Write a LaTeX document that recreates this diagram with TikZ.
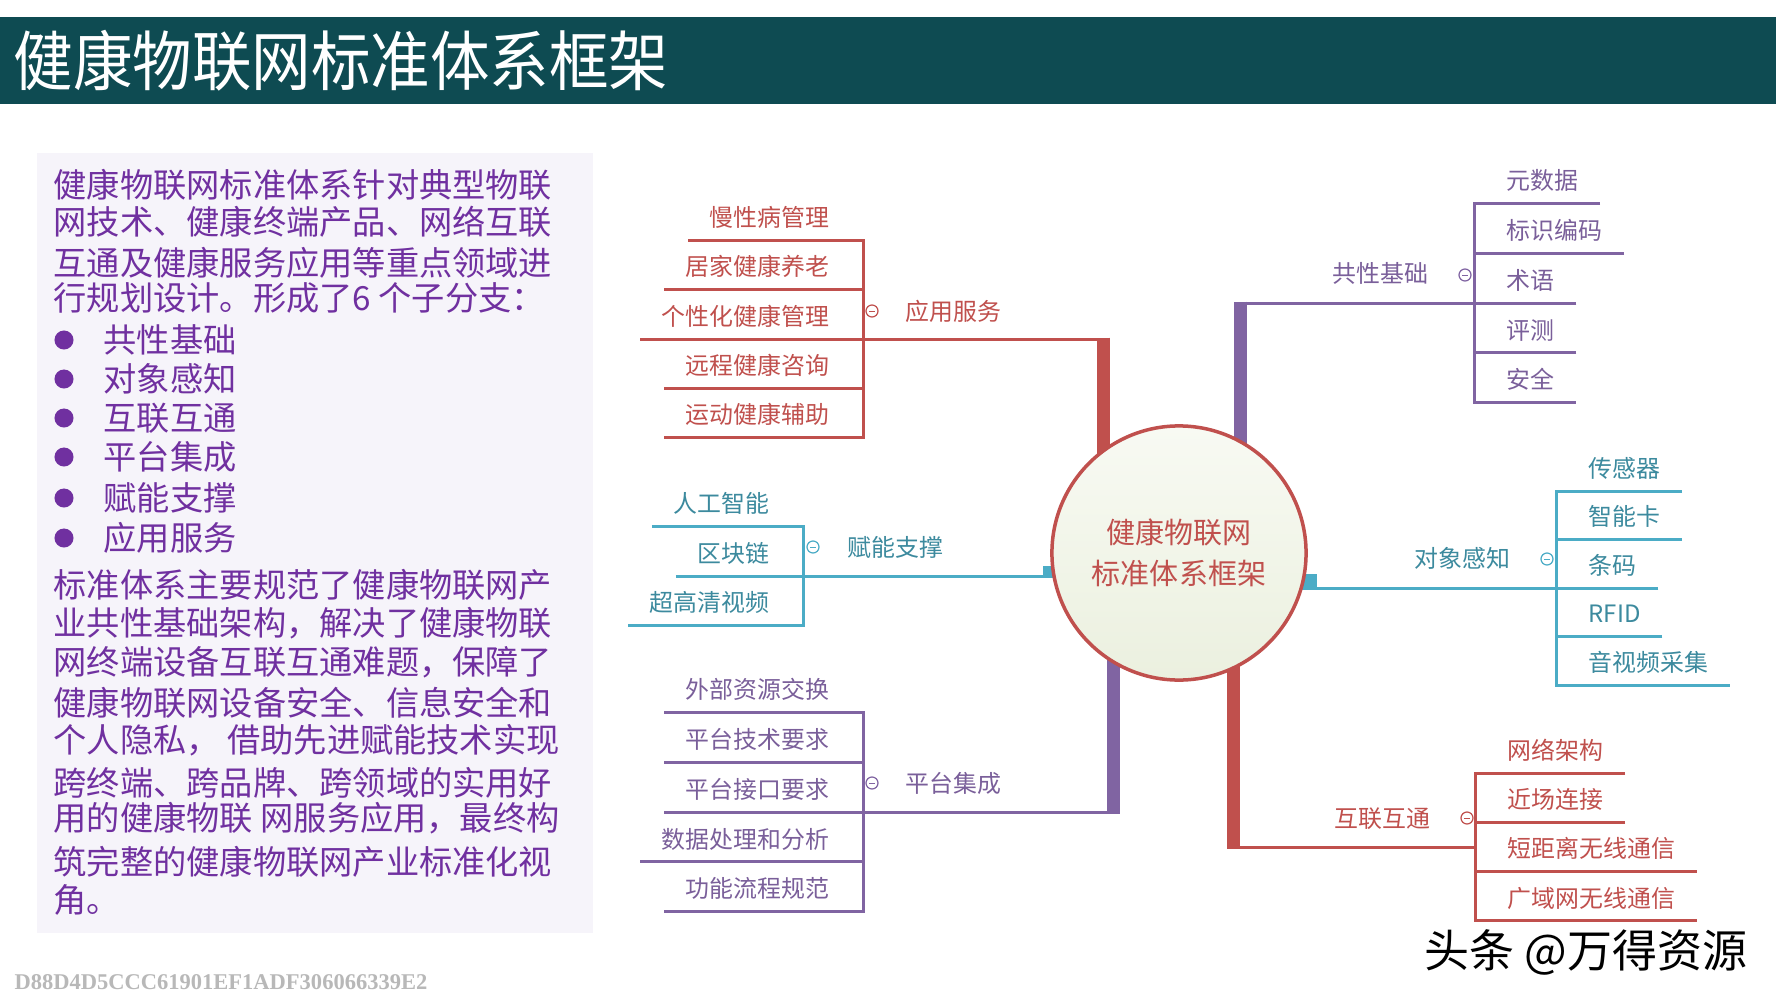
\documentclass[tikz,border=0pt]{standalone}
\usepackage{fontspec}
\usepackage{tikz}
\usetikzlibrary{positioning,calc}
\newfontfamily\cjk{Noto Sans CJK SC}
\newfontfamily\hashfont{Liberation Serif}
\definecolor{titlebg}{RGB}{14,75,82}
\definecolor{boxbg}{RGB}{246,244,250}
\definecolor{ink}{RGB}{112,48,160}
\definecolor{mred}{RGB}{192,80,77}
\definecolor{mpurple}{RGB}{128,100,162}
\definecolor{maqua}{RGB}{75,172,198}
\definecolor{hubtop}{RGB}{248,250,243}
\definecolor{hubbot}{RGB}{235,240,223}
\newcommand{\pxfont}[1]{\cjk\fontsize{#1}{#1}\selectfont}

\begin{document}
\begin{tikzpicture}[
  x=0.01cm, y=-0.01cm,
  titletext/.style={anchor=west,inner sep=0,text=white,font=\pxfont{18.5pt},text height=14pt,text depth=0pt},
  bodytext/.style={anchor=west,inner sep=0,text=ink,font=\pxfont{9.45pt},text height=7.2pt,text depth=0pt},
  leafL/.style={anchor=south east,inner xsep=0.21cm,inner ysep=0.13cm,text=#1,font=\pxfont{6.8pt},text height=5.2pt,text depth=0pt},
  leafR/.style={leafL=#1,anchor=south west},
  branchL/.style={anchor=west,inner sep=0,text=#1,font=\pxfont{6.8pt},text height=5.2pt,text depth=0pt},
  branchR/.style={branchL=#1,anchor=east},
  link/.style={draw=#1,line width=0.03cm},
  trunk/.style={draw=#1,line width=0.13cm},
  fold/.style={circle,draw=#1,fill=white,line width=0.35pt,minimum size=0.12cm,inner sep=0,text=#1},
  hub/.style={circle,draw=mred,line width=0.035cm,top color=hubtop,bottom color=hubbot,minimum size=2.54cm,inner sep=0,align=center,text=mred,font={\cjk\fontsize{8.25pt}{11.7pt}\selectfont}},
]
  \fill[white] (0,0) rectangle (1778,1000);
  \useasboundingbox (0,0) rectangle (1778,1000);
  % title bar
  \fill[titlebg] (0,17) rectangle (1776,104);
  \node[titletext] (title) at (13,61) {\scalebox{0.915}[1]{健康物联网标准体系框架}};
  % left text panel
  \fill[boxbg] (37,153) rectangle (593,933);
  \foreach \y/\t [count=\i] in {185/健康物联网标准体系针对典型物联,222/网技术、健康终端产品、网络互联,263/互通及健康服务应用等重点领域进,298/行规划设计。形成了6 个子分支：}
    \node[bodytext] (intro\i) at (53,\y) {\t};
  \foreach \y/\t [count=\i] in {340/共性基础,379/对象感知,418/互联互通,457/平台集成,498/赋能支撑,538/应用服务}{
    \fill[ink] (64,\y) circle (0.095cm);
    \node[bodytext] (bul\i) at (103,\y) {\t};
  }
  \foreach \y/\t [count=\i] in {585/标准体系主要规范了健康物联网产,623/业共性基础架构，解决了健康物联,662/网终端设备互联互通难题，保障了,703/健康物联网设备安全、信息安全和,740/个人隐私， 借助先进赋能技术实现,783/跨终端、跨品牌、跨领域的实用好,818/用的健康物联 网服务应用，最终构,862/筑完整的健康物联网产业标准化视,900/角。}
    \node[bodytext] (sum\i) at (53,\y) {\t};
  \node[anchor=west,inner sep=0,text=black!28,font=\hashfont\bfseries\fontsize{6.4pt}{6.4pt}\selectfont] (hash) at (14,982) {D88D4D5CCC61901EF1ADF306066339E2};

  % trunks under the hub
  \coordinate (hubC) at (1179,553);
  \coordinate (appBar) at (1103.5,339);
  \coordinate (platBar) at (1113,812);
  \coordinate (basBar) at (1240.5,303);
  \coordinate (netBar) at (1233.5,847);
  \coordinate (aiStub) at (1043,576);
  \coordinate (objStub) at (1317,588);
  \draw[trunk=mred] ($(appBar)+(0,-1.5)$) -- (appBar |- hubC);
  \draw[trunk=mpurple] ($(platBar)+(0,1.5)$) -- (platBar |- hubC);
  \draw[trunk=mpurple] ($(basBar)+(0,-1.5)$) -- (basBar |- hubC);
  \draw[trunk=mred] ($(netBar)+(0,1.5)$) -- (netBar |- hubC);
  \fill[maqua] ($(aiStub)+(0,-10)$) rectangle ($(aiStub)+(40,1.5)$);
  \fill[maqua] ($(objStub)+(0,-14)$) rectangle ($(objStub)+(-40,1.5)$);
  \node[hub] (hub) at (hubC) {健康物联网\\标准体系框架};

  % 应用服务
  \coordinate (appJ) at (863,339);
  \foreach \t [count=\i] in {慢性病管理,居家健康养老,个性化健康管理,远程健康咨询,运动健康辅助}
    \node[leafL=mred] (app\i) at ($(appJ)+(-12,{(\i-3)*49.3})$) {\t};
  \draw[link=mred] (app1.south west) -| (app5.south west -| appJ) -- (app5.south west);
  \foreach \i in {2,3,4}
    \draw[link=mred] (app\i.south west) -- (app\i.south west -| appJ);
  \draw[link=mred] (appJ) -- (appBar);
  \node[fold=mred] (appF) at ($(appJ)+(9,-28)$) {\rule{0.06cm}{0.01cm}};
  \node[branchL=mred] (app) at ($(appJ)+(42,-28)$) {应用服务};

  % 赋能支撑
  \coordinate (aiJ) at (803,576);
  \foreach \t [count=\i] in {人工智能,区块链,超高清视频}
    \node[leafL=maqua!80!black] (ai\i) at ($(aiJ)+(-12,{(\i-2)*49.5})$) {\t};
  \draw[link=maqua] (ai1.south west) -| (ai3.south west -| aiJ) -- (ai3.south west);
  \draw[link=maqua] (ai2.south west) -- (ai2.south west -| aiJ);
  \draw[link=maqua] (aiJ) -- (aiStub);
  \node[fold=maqua] (aiF) at ($(aiJ)+(10,-29)$) {\rule{0.06cm}{0.01cm}};
  \node[branchL=maqua!80!black] (ai) at ($(aiJ)+(44,-29)$) {赋能支撑};

  % 平台集成
  \coordinate (platJ) at (863,812);
  \foreach \t [count=\i] in {外部资源交换,平台技术要求,平台接口要求,数据处理和分析,功能流程规范}
    \node[leafL=mpurple!95!black] (plat\i) at ($(platJ)+(-12,{(\i-3)*49.75})$) {\t};
  \draw[link=mpurple] (plat1.south west) -| (plat5.south west -| platJ) -- (plat5.south west);
  \foreach \i in {2,3,4}
    \draw[link=mpurple] (plat\i.south west) -- (plat\i.south west -| platJ);
  \draw[link=mpurple] (platJ) -- (platBar);
  \node[fold=mpurple] (platF) at ($(platJ)+(9,-29)$) {\rule{0.06cm}{0.01cm}};
  \node[branchL=mpurple!95!black] (plat) at ($(platJ)+(42,-29)$) {平台集成};

  % 共性基础
  \coordinate (basJ) at (1474,303);
  \foreach \t [count=\i] in {元数据,标识编码,术语,评测,安全}
    \node[leafR=mpurple!95!black] (bas\i) at ($(basJ)+(11,{(\i-3)*49.75})$) {\t};
  \draw[link=mpurple] (bas1.south east) -| (bas5.south east -| basJ) -- (bas5.south east);
  \foreach \i in {2,3,4}
    \draw[link=mpurple] (bas\i.south east) -- (bas\i.south east -| basJ);
  \draw[link=mpurple] (basBar) -- (basJ);
  \node[fold=mpurple] (basF) at ($(basJ)+(-9,-28)$) {\rule{0.06cm}{0.01cm}};
  \node[branchR=mpurple!95!black] (bas) at ($(basJ)+(-45,-30)$) {共性基础};

  % 对象感知
  \coordinate (objJ) at (1556,588);
  \foreach \t [count=\i] in {传感器,智能卡,条码,RFID,音视频采集}
    \node[leafR=maqua!80!black] (obj\i) at ($(objJ)+(11,{(\i-3)*48.5})$) {\t};
  \draw[link=maqua] (obj1.south east) -| (obj5.south east -| objJ) -- (obj5.south east);
  \foreach \i in {2,3,4}
    \draw[link=maqua] (obj\i.south east) -- (obj\i.south east -| objJ);
  \draw[link=maqua] (objStub) -- (objJ);
  \node[fold=maqua] (objF) at ($(objJ)+(-9,-29)$) {\rule{0.06cm}{0.01cm}};
  \node[branchR=maqua!80!black] (obj) at ($(objJ)+(-45,-30)$) {对象感知};

  % 互联互通
  \coordinate (netJ) at (1475,847);
  \foreach \t [count=\i] in {网络架构,近场连接,短距离无线通信,广域网无线通信}
    \node[leafR=mred] (net\i) at ($(netJ)+(11,{(\i-2.5)*49.3})$) {\t};
  \draw[link=mred] (net1.south east) -| (net4.south east -| netJ) -- (net4.south east);
  \foreach \i in {2,3}
    \draw[link=mred] (net\i.south east) -- (net\i.south east -| netJ);
  \draw[link=mred] (netBar) -- (netJ);
  \node[fold=mred] (netF) at ($(netJ)+(-8,-29)$) {\rule{0.06cm}{0.01cm}};
  \node[branchR=mred] (net) at ($(netJ)+(-44,-29)$) {互联互通};

  % watermark
  \node[anchor=west,inner sep=0,font=\pxfont{12.8pt},text height=9.7pt,text depth=0pt] (mark) at (1424,950) {头条 @万得资源};
\end{tikzpicture}
\end{document}
